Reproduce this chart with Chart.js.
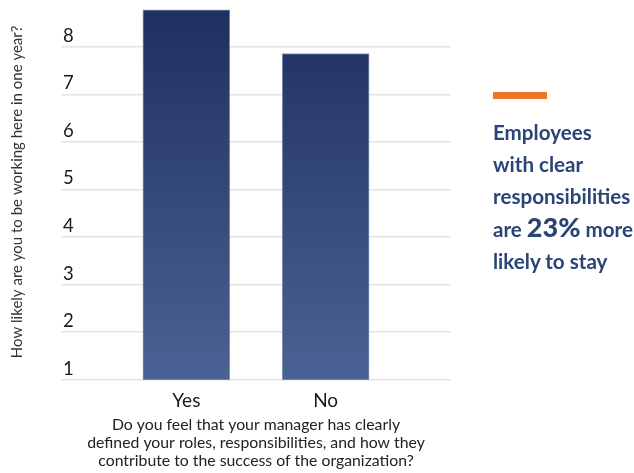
<!DOCTYPE html>
<html>
<head>
<meta charset="utf-8">
<script src="https://cdn.jsdelivr.net/npm/chart.js@4"></script>
<style>
  html, body { margin: 0; padding: 0; background: #fff; }
  #wrap { position: relative; width: 634px; height: 473px; }
  #note { position: absolute; left: 493px; top: 92px; width: 141px; font-family: Lato, sans-serif; }
  #note .dash { width: 54px; height: 7px; background: #f07527; margin-bottom: 17px; }
  #note p { margin: 0; color: #2a4476; font-weight: bold; font-size: 20.6px; line-height: 32.2px; white-space: nowrap; }
  #note b { font-size: 27px; line-height: 1; }
</style>
</head>
<body>
<div id="wrap">
  <canvas id="chart" width="634" height="473"></canvas>
  <div id="note">
    <div class="dash"></div>
    <p>Employees<br>with clear<br>responsibilities<br>are <b>23%</b> more<br>likely to stay</p>
  </div>
</div>
<script>
// Data
var categories = ['Yes', 'No'];
var scores = [8.78, 7.86];
var yTicks = [1, 2, 3, 4, 5, 6, 7, 8];

var yTitle = 'How likely are you to be working here in one year?';
var xTitle = [
    'Do you feel that your manager has clearly',
    'defined your roles, responsibilities, and how they',
    'contribute to the success of the organization?'
];

// Build points for the linear x scale (1 = Yes, 2 = No)
var points = categories.map(function (c, i) {
    return { x: i + 1, y: scores[i] };
});

// Vertical gradient across the chart area
function barGradient(context) {
    var area = context.chart.chartArea;
    if (!area) {
        return '#2f4577';
    }
    var g = context.chart.ctx.createLinearGradient(0, area.top, 0, area.bottom);
    g.addColorStop(0, '#1d2f5e');
    g.addColorStop(1, '#4c6294');
    return g;
}

// Drop the label padding Chart.js adds, so the plot area keeps its size
function noPadding(scale) {
    scale.paddingTop = 0;
    scale.paddingBottom = 0;
    scale.paddingLeft = 0;
    scale.paddingRight = 0;
}

var ctx = document.getElementById('chart').getContext('2d');

new Chart(ctx, {
    type: 'bar',
    data: {
        datasets: [{
            data: points,
            backgroundColor: barGradient,
            borderColor: '#8a98bb',
            borderWidth: 1,
            barThickness: 87
        }]
    },
    options: {
        responsive: false,
        animation: false,
        layout: {
            padding: { top: 4, right: 183, left: 0, bottom: 0 }
        },
        plugins: {
            legend: { display: false },
            tooltip: { enabled: false }
        },
        scales: {
            x: {
                type: 'linear',
                offset: false,
                min: 0.1,
                max: 2.9,
                grid: { display: false, drawTicks: false },
                border: { display: false },
                afterBuildTicks: function (scale) {
                    scale.ticks = categories.map(function (c, i) { return { value: i + 1 }; });
                },
                afterFit: function (scale) {
                    scale.height = 93.3;
                    noPadding(scale);
                },
                ticks: {
                    padding: 10,
                    color: '#1a1a1a',
                    font: { family: 'Lato', size: 19 },
                    callback: function (v) { return categories[v - 1]; }
                },
                title: {
                    display: true,
                    text: xTitle,
                    color: '#222',
                    font: { family: 'Lato', size: 15.8, lineHeight: 1.14 },
                    padding: { top: 0, bottom: 3 }
                }
            },
            y: {
                min: 1,
                max: 8.9,
                grid: { color: '#e4e4e4', lineWidth: 1.6, drawTicks: false },
                border: { display: false },
                afterBuildTicks: function (scale) {
                    scale.ticks = yTicks.map(function (v) { return { value: v }; });
                },
                afterFit: function (scale) {
                    scale.width = 61;
                    noPadding(scale);
                },
                ticks: {
                    mirror: true,
                    padding: 2,
                    labelOffset: -11,
                    color: '#1a1a1a',
                    font: { family: 'Lato', size: 18.5 }
                },
                title: {
                    display: true,
                    text: yTitle,
                    color: '#333',
                    font: { family: 'Lato', size: 15, lineHeight: 1.2 },
                    padding: { top: 8, bottom: 0 }
                }
            }
        }
    }
});
</script>
</body>
</html>
